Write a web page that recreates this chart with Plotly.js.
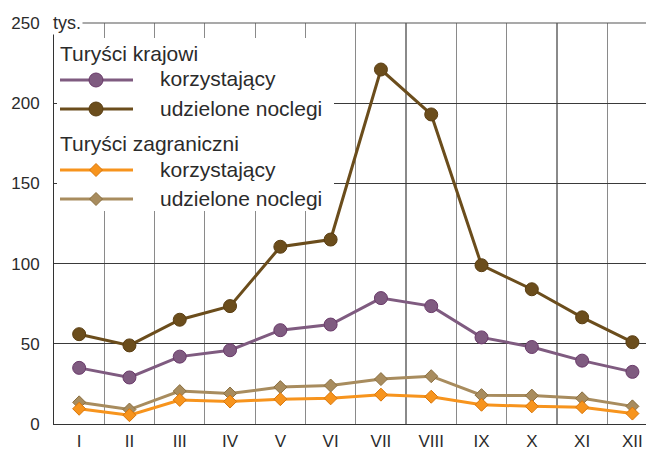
<!DOCTYPE html>
<html>
<head>
<meta charset="utf-8">
<script src="https://cdn.plot.ly/plotly-3.0.1.min.js"></script>
<style>
  html, body { margin: 0; padding: 0; background: #fff; }
  #chart { width: 646px; height: 453px; }
</style>
</head>
<body>
<div id="chart"></div>
<script>
// ---- data ----
const months = ["I", "II", "III", "IV", "V", "VI", "VII", "VIII", "IX", "X", "XI", "XII"];
const krajowiKorzystajacy = [35, 29, 42, 46, 58.5, 62, 78.5, 73.5, 54, 48, 39.5, 32.5];
const krajowiNoclegi = [56, 49, 65, 73.5, 110.5, 115, 221, 193, 99, 84, 66.5, 51];
const zagraniczniKorzystajacy = [9.5, 5.5, 15, 14, 15.5, 16, 18.3, 17, 12, 11, 10.5, 6.5];
const zagraniczniNoclegi = [13.5, 9, 20.5, 19, 23, 24, 28, 29.8, 18, 17.7, 16, 11];
const groupTitles = ["Turyści krajowi", "Turyści zagraniczni"];
const seriesNames = ["korzystający", "udzielone noclegi", "korzystający", "udzielone noclegi"];
const unitLabel = "tys.";

// ---- styles ----
const styles = [
  { line: "#7f5b80", fill: "#7f5b80", edge: "#6a3a6a", symbol: "circle", size: 13 },
  { line: "#6b4d1c", fill: "#6b4d1c", edge: "#5a3e12", symbol: "circle", size: 13 },
  { line: "#f7941d", fill: "#f7941d", edge: "#d9760a", symbol: "diamond", size: 10 },
  { line: "#a88c5e", fill: "#a88c5e", edge: "#8a6f40", symbol: "diamond", size: 10 }
];
const seriesData = [krajowiKorzystajacy, krajowiNoclegi, zagraniczniKorzystajacy, zagraniczniNoclegi];
const xIdx = months.map((m, i) => i);

const traces = seriesData.map((vals, k) => ({
  type: "scatter",
  mode: "lines+markers",
  x: xIdx,
  y: vals,
  name: seriesNames[k],
  line: { color: styles[k].line, width: 3 },
  marker: { symbol: styles[k].symbol, size: styles[k].size, color: styles[k].fill,
            line: { color: styles[k].edge, width: 1 } },
  showlegend: false,
  hoverinfo: "skip"
}));
const ordered = [traces[3], traces[2], traces[0], traces[1]];

// ---- geometry for the custom legend (pixel -> paper) ----
const M = { l: 54, r: 0, t: 23, b: 29 };
const W = 646 - M.l - M.r, H = 453 - M.t - M.b;
const px = x => (x - M.l) / W;
const py = y => (453 - M.b - y) / H;

const FONT = "Liberation Sans, Arial, Helvetica, sans-serif";
const TXT = "#2b2b2b";

const shapes = [];
const annotations = [];
// top frame line (250 gridline)
shapes.push({ type: "line", xref: "paper", yref: "paper", layer: "above",
  x0: 0, x1: 1, y0: 1, y1: 1, line: { color: "#555555", width: 1.2 } });
// white legend background
shapes.push({ type: "rect", xref: "paper", yref: "paper", layer: "above",
  x0: px(57), x1: px(334), y0: py(38), y1: py(211),
  fillcolor: "#ffffff", line: { width: 0 } });

const titleY = [54, 143];
const itemY = [80, 109, 170, 199];
groupTitles.forEach((t, g) => {
  annotations.push({ xref: "paper", yref: "paper", x: px(58), y: py(titleY[g]),
    xanchor: "left", yanchor: "middle", showarrow: false, text: t,
    font: { family: FONT, size: 21, color: TXT } });
});
seriesNames.forEach((n, k) => {
  const yy = itemY[k];
  shapes.push({ type: "line", xref: "paper", yref: "paper", layer: "above",
    x0: px(60), x1: px(133), y0: py(yy), y1: py(yy),
    line: { color: styles[k].line, width: 3 } });
  if (styles[k].symbol === "circle") {
    const r = 7;
    shapes.push({ type: "circle", xref: "paper", yref: "paper", layer: "above",
      x0: px(96 - r), x1: px(96 + r), y0: py(yy + r), y1: py(yy - r),
      fillcolor: styles[k].fill, line: { color: styles[k].edge, width: 1 } });
  } else {
    const d = 6.5;
    const pts = [[96, yy - d], [96 + d, yy], [96, yy + d], [96 - d, yy]];
    shapes.push({ type: "path", xref: "paper", yref: "paper", layer: "above",
      path: "M" + pts.map(p => px(p[0]) + "," + py(p[1])).join("L") + "Z",
      fillcolor: styles[k].fill, line: { color: styles[k].edge, width: 1 } });
  }
  annotations.push({ xref: "paper", yref: "paper", x: px(158), y: py(yy - 1),
    xanchor: "left", yanchor: "middle", showarrow: false, text: n,
    font: { family: FONT, size: 21, color: TXT } });
});
// unit label
annotations.push({ xref: "paper", yref: "paper", x: px(51), y: py(23),
  xanchor: "left", yanchor: "middle", showarrow: false, text: unitLabel,
  bgcolor: "#ffffff", borderpad: 1,
  font: { family: FONT, size: 18, color: TXT } });

const layout = {
  width: 646, height: 453,
  margin: M,
  paper_bgcolor: "#ffffff", plot_bgcolor: "#ffffff",
  showlegend: false,
  font: { family: FONT, size: 17, color: TXT },
  xaxis: {
    range: [-0.5, 11.27],
    tickmode: "array", tickvals: xIdx, ticktext: months,
    showgrid: false, zeroline: false,
    showline: true, linecolor: "#333333", linewidth: 1,
    ticks: "", ticklabelstandoff: 2,
    tickfont: { family: FONT, size: 17, color: TXT },
    minor: { tick0: 0.5, dtick: 1, showgrid: true, gridcolor: "#8a8a8a", gridwidth: 1.2, ticks: "" },
    fixedrange: true
  },
  yaxis: {
    range: [0, 250],
    tickmode: "linear", tick0: 0, dtick: 50,
    showgrid: true, gridcolor: "#3a3a3a", gridwidth: 1,
    zeroline: false,
    showline: true, linecolor: "#333333", linewidth: 1,
    ticks: "", ticklabelstandoff: 10,
    tickfont: { family: FONT, size: 17, color: TXT },
    fixedrange: true
  },
  shapes: shapes,
  annotations: annotations
};

Plotly.newPlot("chart", ordered, layout, { displayModeBar: false, staticPlot: true });
</script>
</body>
</html>
